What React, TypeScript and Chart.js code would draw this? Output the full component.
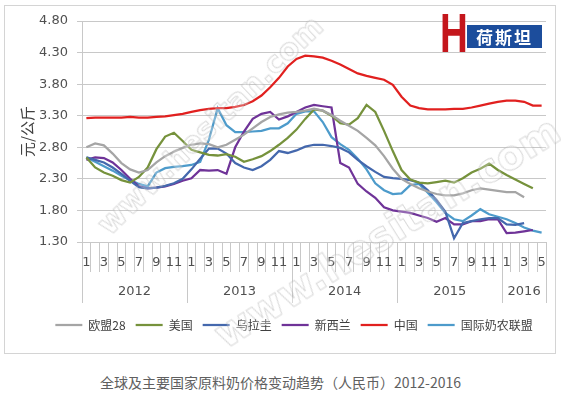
import React, { useEffect, useRef } from 'react';
import { Chart, registerables } from 'chart.js';

Chart.register(...registerables);

// ---- data ----
const months = [
  1, 2, 3, 4, 5, 6, 7, 8, 9, 10, 11, 12,
  1, 2, 3, 4, 5, 6, 7, 8, 9, 10, 11, 12,
  1, 2, 3, 4, 5, 6, 7, 8, 9, 10, 11, 12,
  1, 2, 3, 4, 5, 6, 7, 8, 9, 10, 11, 12,
  1, 2, 3, 4, 5,
];
const years = ['2012', '2013', '2014', '2015', '2016'];
const monthsPerYear = [12, 12, 12, 12, 5];
const yTicks = [1.3, 1.8, 2.3, 2.8, 3.3, 3.8, 4.3, 4.8];
const seriesNames = ['欧盟28', '美国', '乌拉圭', '新西兰', '中国', '国际奶农联盟'];

const eu28 = [
  2.80, 2.86, 2.83, 2.70, 2.55, 2.45, 2.40, 2.44, 2.56, 2.66, 2.73, 2.79,
  2.84, 2.86, 2.85, 2.80, 2.84, 2.92, 3.00, 3.10, 3.20, 3.28, 3.32, 3.35,
  3.36, 3.38, 3.41, 3.38, 3.31, 3.22, 3.14, 3.06, 2.95, 2.83, 2.66, 2.46,
  2.30, 2.22, 2.15, 2.10, 2.06, 2.04, 2.04, 2.07, 2.12, 2.15, 2.13, 2.11,
  2.09, 2.09, 2.01, null, null,
];
const usa = [
  2.64, 2.48, 2.40, 2.35, 2.28, 2.24, 2.33, 2.48, 2.77, 2.97, 3.03, 2.90,
  2.76, 2.72, 2.68, 2.67, 2.69, 2.65, 2.57, 2.61, 2.66, 2.74, 2.84, 2.95,
  3.08, 3.25, 3.40, 3.38, 3.30, 3.18, 3.16, 3.26, 3.47, 3.36, 3.06, 2.74,
  2.44, 2.29, 2.24, 2.23, 2.25, 2.27, 2.24, 2.31, 2.40, 2.46, 2.54, 2.44,
  2.36, 2.29, 2.22, 2.15, null,
];
const uruguay = [
  2.64, 2.60, 2.56, 2.48, 2.38, 2.27, 2.17, 2.15, 2.16, 2.19, 2.23, 2.30,
  2.45, 2.62, 2.78, 2.78, 2.70, 2.55, 2.48, 2.44, 2.50, 2.60, 2.74, 2.71,
  2.75, 2.81, 2.84, 2.84, 2.82, 2.79, 2.72, 2.60, 2.50, 2.41, 2.33, 2.31,
  2.30, 2.28, 2.24, 2.12, 1.96, 1.78, 1.36, 1.60, 1.63, 1.66, 1.68, 1.68,
  1.58, 1.57, 1.60, null, null,
];
const newZealand = [
  2.60, 2.64, 2.63, 2.56, 2.44, 2.30, 2.18, 2.15, 2.16, 2.18, 2.22, 2.27,
  2.31, 2.44, 2.43, 2.44, 2.38, 2.80, 3.05, 3.25, 3.33, 3.36, 3.24, 3.29,
  3.36, 3.43, 3.47, 3.45, 3.43, 2.55, 2.48, 2.22, 2.10, 2.00, 1.85, 1.80,
  1.78, 1.76, 1.72, 1.68, 1.62, 1.68, 1.58, 1.58, 1.63, 1.63, 1.66, 1.66,
  1.44, 1.45, 1.47, 1.49, null,
];
const china = [
  3.26, 3.27, 3.27, 3.27, 3.27, 3.28, 3.27, 3.27, 3.28, 3.29, 3.31, 3.33,
  3.36, 3.39, 3.41, 3.42, 3.42, 3.44, 3.47, 3.53, 3.62, 3.75, 3.90, 4.08,
  4.20, 4.25, 4.24, 4.22, 4.17, 4.11, 4.04, 3.97, 3.93, 3.90, 3.87, 3.79,
  3.60, 3.46, 3.42, 3.40, 3.40, 3.40, 3.41, 3.41, 3.43, 3.46, 3.49, 3.52,
  3.54, 3.54, 3.52, 3.46, 3.46,
];
const idf = [
  2.64, 2.57, 2.50, 2.43, 2.35, 2.28, 2.22, 2.18, 2.40, 2.47, 2.49, 2.50,
  2.52, 2.57, 2.92, 3.42, 3.15, 3.04, 3.04, 3.05, 3.06, 3.10, 3.10, 3.18,
  3.33, 3.37, 3.37, 3.20, 2.96, 2.85, 2.76, 2.62, 2.45, 2.23, 2.12, 2.06,
  2.07, 2.20, 2.22, 2.08, 1.93, 1.76, 1.66, 1.63, 1.72, 1.82, 1.74, 1.70,
  1.66, 1.60, 1.53, 1.48, 1.45,
];

const seriesValues = [eu28, usa, uruguay, newZealand, china, idf];
const seriesColors = ['#a5a5a5', '#76923c', '#4468ad', '#6f3398', '#e1201f', '#4d9bcb'];

const gridColor = '#c8c8c8';
const tickColor = '#505050';
const latinFont = '"DejaVu Sans", sans-serif';
const cjkFont = '"Noto Sans CJK SC", sans-serif';

const yearAxisPlugin = {
  id: 'yearAxis',
  afterLayout(chart: any) {
    // centre the legend row under the plot as in the reference
    if (chart.legend) {
      chart.legend.left += 21;
      chart.legend.right += 21;
    }
  },
  afterDraw(chart: any) {
    const xs = chart.scales.x;
    const ctx = chart.ctx;
    const bottom = chart.chartArea.bottom;
    const half = (xs.getPixelForValue(1) - xs.getPixelForValue(0)) / 2;
    const bounds = [0];
    monthsPerYear.forEach((n) => bounds.push(bounds[bounds.length - 1] + n));
    ctx.save();
    ctx.strokeStyle = gridColor;
    ctx.lineWidth = 1;
    bounds.forEach((b) => {
      const px = Math.round(xs.getPixelForValue(b) - half) + 0.5;
      ctx.beginPath();
      ctx.moveTo(px, bottom);
      ctx.lineTo(px, bottom + 61);
      ctx.stroke();
    });
    ctx.fillStyle = tickColor;
    ctx.font = '13px ' + latinFont;
    ctx.textAlign = 'center';
    ctx.textBaseline = 'middle';
    years.forEach((yr, k) => {
      const c = (xs.getPixelForValue(bounds[k]) + xs.getPixelForValue(bounds[k + 1] - 1)) / 2;
      ctx.fillText(yr, c, bottom + 50);
    });
    ctx.restore();
  },
};

export default function App() {
  const ref = useRef<HTMLCanvasElement>(null);

  useEffect(() => {
    const chart = new Chart(ref.current as HTMLCanvasElement, {
      type: 'line',
      data: {
        labels: months.map(String),
        datasets: seriesNames.map((name, i) => ({
          label: name,
          data: seriesValues[i],
          borderColor: seriesColors[i],
          backgroundColor: seriesColors[i],
          borderWidth: 2.25,
          pointRadius: 0,
          tension: 0,
          fill: false,
        })),
      },
      options: {
        responsive: false,
        animation: false,
        layout: { padding: { left: 0, right: 15, top: 21, bottom: 11 } },
        plugins: {
          legend: {
            position: 'bottom',
            labels: {
              usePointStyle: true,
              pointStyle: 'line',
              pointStyleWidth: 27,
              padding: 10,
              color: '#404040',
              font: { family: cjkFont, size: 12 },
            },
          },
          tooltip: { enabled: false },
        },
        scales: {
          x: {
            type: 'category',
            offset: true,
            grid: {
              display: true,
              drawOnChartArea: false,
              drawTicks: true,
              tickLength: 30,
              color: gridColor,
              offset: true,
            },
            border: { display: true, color: gridColor },
            ticks: {
              autoSkip: false,
              maxRotation: 0,
              minRotation: 0,
              padding: -17,
              color: tickColor,
              font: { family: latinFont, size: 13 },
              callback: (_v: any, i: number) => (months[i] % 2 === 1 ? String(months[i]) : ''),
            },
            afterFit: (s: any) => {
              s.height = 67;
            },
          },
          y: {
            min: 1.3,
            max: 4.8,
            afterBuildTicks: (s: any) => {
              s.ticks = yTicks.map((v) => ({ value: v }));
            },
            grid: { color: gridColor, tickLength: 5 },
            border: { display: true, color: gridColor },
            ticks: {
              padding: 9,
              color: tickColor,
              font: { family: latinFont, size: 13 },
              callback: (v: any) => Number(v).toFixed(2),
            },
            title: {
              display: true,
              text: '元/公斤',
              color: '#404040',
              font: { family: cjkFont, size: 15 },
              padding: { top: 18, bottom: 0 },
            },
            afterFit: (s: any) => {
              s.width = 82;
            },
          },
        },
      } as any,
      plugins: [yearAxisPlugin],
    });
    return () => chart.destroy();
  }, []);

  return (
    <div
      style={{
        position: 'fixed',
        left: 0,
        top: 0,
        width: 561,
        height: 395,
        background: '#ffffff',
        overflow: 'hidden',
      }}
    >
      <div
        style={{
          position: 'absolute',
          left: 4,
          top: 5,
          width: 550,
          height: 347,
          border: '1px solid #d4d4d4',
        }}
      />
      <canvas
        ref={ref}
        width={561}
        height={352}
        style={{ position: 'absolute', left: 0, top: 0, width: 561, height: 352 }}
      />
      {/* logo */}
      <div
        style={{
          position: 'absolute',
          left: 467,
          top: 25,
          width: 75,
          height: 23,
          background: '#1c4d9c',
          color: '#ffffff',
          fontFamily: cjkFont,
          fontWeight: 700,
          fontSize: 17,
          lineHeight: '23px',
          textAlign: 'center',
          letterSpacing: 2,
        }}
      >
        荷斯坦
      </div>
      <div
        style={{
          position: 'absolute',
          left: 440,
          top: 6,
          fontFamily: '"Liberation Sans", sans-serif',
          fontWeight: 700,
          fontSize: 55,
          lineHeight: 1,
          color: '#c4161c',
          transform: 'scaleX(0.7)',
          transformOrigin: 'left top',
        }}
      >
        H
      </div>
      {/* watermarks */}
      <div
        style={{
          position: 'absolute',
          left: 210,
          top: 125,
          transform: 'translate(-50%, -50%) rotate(-44deg)',
          fontFamily: latinFont,
          fontWeight: 700,
          fontSize: 30,
          whiteSpace: 'nowrap',
          color: 'rgba(255,255,255,0.25)',
          WebkitTextStroke: '1px rgba(170,170,170,0.45)',
          pointerEvents: 'none',
        }}
      >
        www.hesitan.com
      </div>
      <div
        style={{
          position: 'absolute',
          left: 387,
          top: 232,
          transform: 'translate(-50%, -50%) rotate(-32deg)',
          fontFamily: latinFont,
          fontWeight: 700,
          fontSize: 40,
          whiteSpace: 'nowrap',
          color: 'rgba(255,255,255,0.25)',
          WebkitTextStroke: '1px rgba(170,170,170,0.45)',
          pointerEvents: 'none',
        }}
      >
        www.hesitan.com
      </div>
      <div
        style={{
          position: 'absolute',
          left: 0,
          top: 373,
          width: 561,
          textAlign: 'center',
          fontFamily: cjkFont,
          fontSize: 14,
          lineHeight: '18px',
          color: '#606060',
        }}
      >
        全球及主要国家原料奶价格变动趋势（人民币）2012-2016
      </div>
    </div>
  );
}
